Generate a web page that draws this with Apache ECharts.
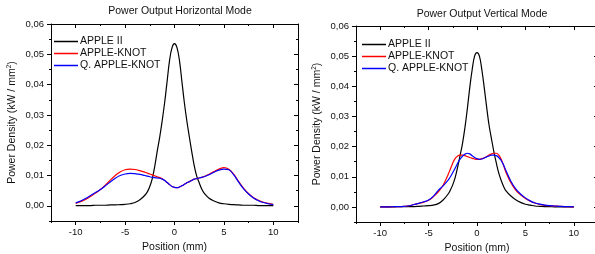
<!DOCTYPE html>
<html>
<head>
<meta charset="utf-8">
<script src="https://cdn.jsdelivr.net/npm/echarts@6/dist/echarts.min.js"></script>
<style>
  html, body { margin: 0; padding: 0; background: #fff; }
  #chart { width: 595px; height: 254px; }
</style>
</head>
<body>
<div id="chart"></div>
<script>
// sample positions (mm), finer around the centre peak
const positions = [
  -10, -9.5, -9, -8.5, -8, -7.5, -7, -6.5, -6, -5.5, -5, -4.5, -4, -3.5,
  -3, -2.75, -2.5, -2.25, -2, -1.75, -1.5, -1.25, -1, -0.75, -0.5, -0.25,
  0, 0.25, 0.5, 0.75, 1, 1.25, 1.5, 1.75, 2, 2.25, 2.5, 2.75, 3,
  3.5, 4, 4.5, 5, 5.5, 6, 6.5, 7, 7.5, 8, 8.5, 9, 9.5, 10,
]

// horizontal mode (kW / mm2)
const hApple2 = [
  0.0001, 0.0001, 0.0001, 0.0001, 0.0002, 0.0002, 0.0002, 0.0003, 0.0003, 0.0004, 0.0005, 0.0007, 0.0011, 0.0020,
  0.0035, 0.0046, 0.0064, 0.0090, 0.0130, 0.0180, 0.0226, 0.0280, 0.0340, 0.0410, 0.0480, 0.0522,
  0.0535, 0.0522, 0.0480, 0.0410, 0.0340, 0.0280, 0.0228, 0.0178, 0.0132, 0.0098, 0.0076, 0.0056, 0.0042,
  0.0025, 0.0016, 0.0010, 0.0007, 0.0005, 0.0004, 0.0003, 0.0002, 0.0002, 0.0002, 0.0001, 0.0001, 0.0001, 0.0001,
]
const hKnot = [
  0.0008, 0.0014, 0.0021, 0.0031, 0.0042, 0.0054, 0.0068, 0.0085, 0.0100, 0.0112, 0.0119, 0.0121, 0.0120, 0.0116,
  0.0111, 0.0108, 0.0105, 0.0102, 0.0099, 0.0096, 0.0093, 0.0089, 0.0084, 0.0077, 0.0070, 0.0064,
  0.0061, 0.0060, 0.0062, 0.0066, 0.0071, 0.0076, 0.0080, 0.0084, 0.0088, 0.0090, 0.0092, 0.0094, 0.0097,
  0.0104, 0.0113, 0.0121, 0.0126, 0.0121, 0.0104, 0.0080, 0.0058, 0.0040, 0.0027, 0.0018, 0.0012, 0.0008, 0.0005,
]
const hQKnot = [
  0.0010, 0.0016, 0.0024, 0.0034, 0.0044, 0.0054, 0.0066, 0.0079, 0.0091, 0.0100, 0.0105, 0.0107, 0.0106, 0.0104,
  0.0100, 0.0098, 0.0096, 0.0094, 0.0093, 0.0092, 0.0091, 0.0088, 0.0084, 0.0077, 0.0070, 0.0064,
  0.0061, 0.0060, 0.0062, 0.0066, 0.0071, 0.0076, 0.0080, 0.0084, 0.0088, 0.0090, 0.0092, 0.0094, 0.0096,
  0.0103, 0.0111, 0.0118, 0.0121, 0.0119, 0.0102, 0.0078, 0.0056, 0.0039, 0.0026, 0.0017, 0.0011, 0.0007, 0.0004,
]

// vertical mode (kW / mm2)
const vApple2 = [
  0, 0, 0, 0, 0.0001, 0.0001, 0.0001, 0.0001, 0.0002, 0.0003, 0.0004, 0.0006, 0.0011, 0.0023,
  0.0042, 0.0056, 0.0074, 0.0098, 0.0132, 0.0170, 0.0210, 0.0262, 0.0325, 0.0395, 0.0455, 0.0500,
  0.0512, 0.0500, 0.0455, 0.0395, 0.0330, 0.0270, 0.0225, 0.0182, 0.0145, 0.0112, 0.0088, 0.0068, 0.0053,
  0.0036, 0.0024, 0.0015, 0.0009, 0.0006, 0.0003, 0.0002, 0.0001, 0.0001, 0, 0, 0, 0, 0,
]
const vKnot = [
  0, 0, 0, 0.0001, 0.0001, 0.0002, 0.0004, 0.0008, 0.0012, 0.0016, 0.0022, 0.0034, 0.0050, 0.0072,
  0.0106, 0.0126, 0.0146, 0.0161, 0.0169, 0.0172, 0.0172, 0.0170, 0.0167, 0.0164, 0.0161, 0.0159,
  0.0158, 0.0158, 0.0160, 0.0163, 0.0167, 0.0172, 0.0176, 0.0178, 0.0178, 0.0172, 0.0158, 0.0137, 0.0114,
  0.0080, 0.0056, 0.0040, 0.0028, 0.0019, 0.0013, 0.0008, 0.0005, 0.0004, 0.0003, 0.0002, 0.0001, 0.0001, 0,
]
const vQKnot = [
  0, 0, 0, 0.0001, 0.0001, 0.0002, 0.0004, 0.0008, 0.0012, 0.0017, 0.0023, 0.0036, 0.0055, 0.0070,
  0.0088, 0.0100, 0.0114, 0.0129, 0.0145, 0.0158, 0.0168, 0.0175, 0.0178, 0.0176, 0.0170, 0.0164,
  0.0160, 0.0158, 0.0159, 0.0162, 0.0166, 0.0169, 0.0172, 0.0172, 0.0170, 0.0164, 0.0154, 0.0139, 0.0120,
  0.0085, 0.0060, 0.0043, 0.0030, 0.0020, 0.0013, 0.0009, 0.0006, 0.0004, 0.0003, 0.0002, 0.0001, 0.0001, 0,
]

const seriesNames = ['APPLE II', 'APPLE-KNOT', 'Q. APPLE-KNOT']
const colors = ['#000000', '#ff0000', '#0000ff']
const titles = ['Power Output Horizontal Mode', 'Power Output Vertical Mode']

const xMajor = [-10, -5, 0, 5, 10]
const xMinor = [-12.5, -7.5, -2.5, 2.5, 7.5, 12.5]
const yMajor = [0, 0.01, 0.02, 0.03, 0.04, 0.05, 0.06]
const yMinor = [-0.005, 0.005, 0.015, 0.025, 0.035, 0.045, 0.055]

const font = 'Liberation Sans, Arial, sans-serif'
const axisColor = '#000'
const fmt = (v) => v.toFixed(2).replace('.', ',')

// outerBoundsMode 'none' keeps the grids exactly where they are placed
const grids = [
  { left: 51, top: 24, width: 247, height: 197, outerBoundsMode: 'none', containLabel: false },
  { left: 356, top: 26, width: 242, height: 196, outerBoundsMode: 'none', containLabel: false },
]

function tickAxis(base, position, values, length, inside, showLine) {
  return {
    ...base,
    position,
    axisLine: { show: showLine, onZero: false, lineStyle: { color: axisColor, width: 1 } },
    axisTick: { show: true, inside, length, customValues: values, lineStyle: { color: axisColor, width: 1 } },
    axisLabel: { show: false },
    splitLine: { show: false },
  }
}

function xAxes(g) {
  const base = { type: 'value', gridIndex: g, min: -12.5, max: 12.5 }
  const main = tickAxis(base, 'bottom', xMajor, 4, false, true)
  main.axisLabel = { show: true, customValues: xMajor, margin: 6, color: '#111', fontSize: 9.5, fontFamily: font }
  main.name = 'Position (mm)'
  main.nameLocation = 'middle'
  main.nameGap = 20
  main.nameTextStyle = { color: '#111', fontSize: 10.5, fontFamily: font }
  return [
    main,
    tickAxis(base, 'bottom', xMinor, 2, false, false),
    tickAxis(base, 'top', xMajor, 4, true, true),
    tickAxis(base, 'top', xMinor, 2, true, false),
  ]
}

function yAxes(g) {
  const base = { type: 'value', gridIndex: g, min: -0.005, max: 0.06 }
  const main = tickAxis(base, 'left', yMajor, 4, false, true)
  main.axisLabel = { show: true, customValues: yMajor, margin: 7, color: '#111', fontSize: 9.5, fontFamily: font, formatter: fmt }
  main.name = 'Power Density (kW / mm{sup|2})'
  main.nameLocation = 'middle'
  main.nameGap = 33
  main.nameTextStyle = {
    color: '#111', fontSize: 10.5, fontFamily: font,
    rich: { sup: { fontSize: 6.5, fontFamily: font, color: '#111', verticalAlign: 'top', padding: [0, 0, 5, 0] } },
  }
  return [
    main,
    tickAxis(base, 'left', yMinor, 2, false, false),
    tickAxis(base, 'right', yMajor, 4, true, true),
    tickAxis(base, 'right', yMinor, 2, true, false),
  ]
}

function lineSeries(g, name, color, values) {
  return {
    name,
    type: 'line',
    xAxisIndex: g * 4,
    yAxisIndex: g * 4,
    data: positions.map((x, i) => [x, values[i]]),
    symbol: 'none',
    smooth: 0.4,
    lineStyle: { color, width: 1.2 },
    itemStyle: { color },
    silent: true,
  }
}

function legendFor(left, top) {
  return {
    data: seriesNames,
    orient: 'vertical',
    left,
    top,
    icon: 'rect',
    itemWidth: 24,
    itemHeight: 1.5,
    itemGap: 1,
    selectedMode: false,
    textStyle: { color: '#111', fontSize: 10.5, fontFamily: font, padding: [0, 0, 0, -3] },
  }
}

const chart = echarts.init(document.getElementById('chart'), null, { renderer: 'canvas' })

const panels = [[hApple2, hKnot, hQKnot], [vApple2, vKnot, vQKnot]]
const series = []
panels.forEach((sets, g) => {
  sets.forEach((values, i) => series.push(lineSeries(g, seriesNames[i], colors[i], values)))
})

chart.setOption({
  animation: false,
  backgroundColor: '#fff',
  title: [
    { text: titles[0], left: 175, top: 1, textAlign: 'center', textStyle: { fontSize: 10.5, fontWeight: 'normal', color: '#111', fontFamily: font } },
    { text: titles[1], left: 477, top: 4, textAlign: 'center', textStyle: { fontSize: 10.5, fontWeight: 'normal', color: '#111', fontFamily: font } },
  ],
  legend: [legendFor(49, 31), legendFor(357, 34)],
  grid: grids,
  xAxis: [...xAxes(0), ...xAxes(1)],
  yAxis: [...yAxes(0), ...yAxes(1)],
  series,
})
</script>
</body>
</html>
